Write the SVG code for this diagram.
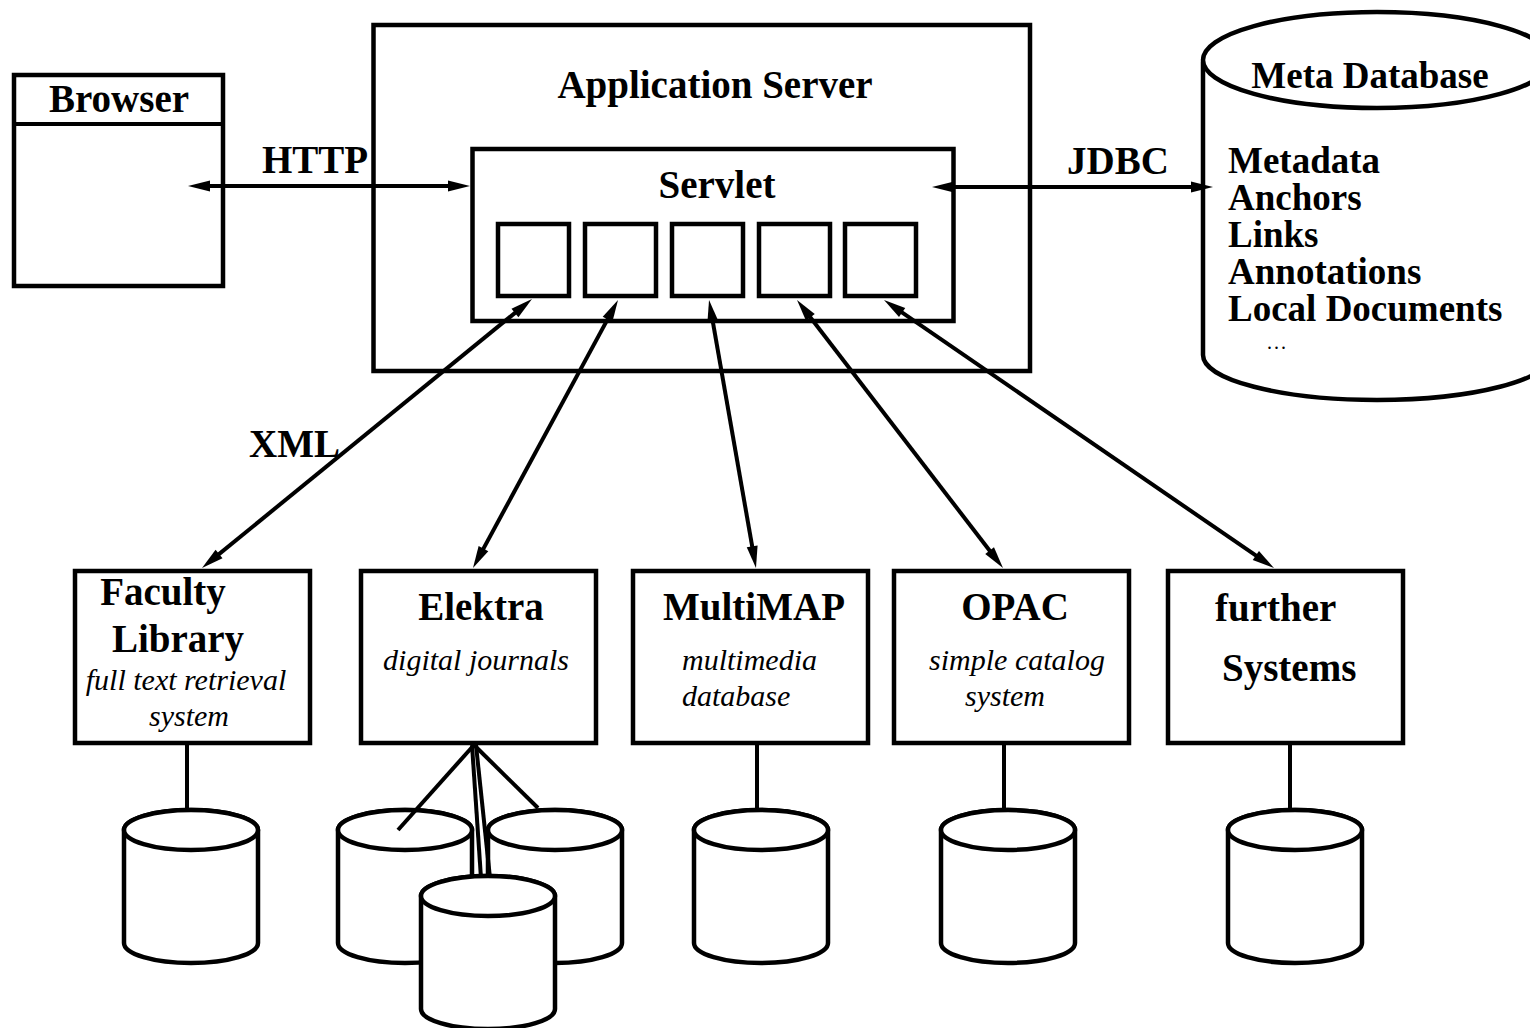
<svg xmlns="http://www.w3.org/2000/svg" xmlns:xlink="http://www.w3.org/1999/xlink" width="1530" height="1028" viewBox="0 0 1530 1028">
<style>
.box{fill:#fff;stroke:#000;stroke-width:4.5}
.ln{fill:none;stroke:#000;stroke-width:4}
.arr{fill:none;stroke:#000;stroke-width:4;marker-start:url(#ah);marker-end:url(#ah)}
.b{font-family:"Liberation Serif","Times New Roman",serif;font-weight:bold;font-size:39px;fill:#000}
.i{font-family:"Liberation Serif","Times New Roman",serif;font-style:italic;font-size:30px;fill:#000}
.c{text-anchor:middle}
</style>
<defs>
<marker id="ah" markerUnits="userSpaceOnUse" markerWidth="40" markerHeight="20" refX="0" refY="0" orient="auto-start-reverse" overflow="visible" viewBox="-20 -10 40 20">
<path d="M12,0 L-10,-5.5 L-10,5.5 Z" fill="#000"/>
</marker>
<g id="cyl">
<path d="M-67,0 V113 A67,20 0 0 0 67,113 V0 A67,20 0 0 0 -67,0 Z" fill="#fff" stroke="#000" stroke-width="4.5"/>
<ellipse cx="0" cy="0" rx="67" ry="20" fill="#fff" stroke="#000" stroke-width="4.5"/>
</g>
</defs>
<rect width="1530" height="1028" fill="#fff"/>

<g id="app-server">
<rect class="box" x="373.5" y="25" width="656.5" height="346"/>
<text class="b c" x="715" y="98">Application Server</text>
</g>

<g id="servlet">
<rect class="box" x="472.5" y="149" width="481" height="172"/>
<text class="b c" x="717" y="198">Servlet</text>
<rect class="box" x="498" y="224" width="71" height="72"/>
<rect class="box" x="585" y="224" width="71" height="72"/>
<rect class="box" x="672" y="224" width="71" height="72"/>
<rect class="box" x="759" y="224" width="71" height="72"/>
<rect class="box" x="845" y="224" width="71" height="72"/>
</g>

<g id="browser">
<rect class="box" x="14" y="75" width="209" height="211"/>
<line class="ln" x1="14" y1="124" x2="223" y2="124"/>
<text class="b c" x="119" y="112">Browser</text>
</g>

<g id="meta-db">
<path d="M1203,62 V355 A174,45 0 0 0 1551,355 V62 A174,48 0 0 0 1203,62 Z" fill="#fff" stroke="#000" stroke-width="4.5"/>
<ellipse cx="1377" cy="60" rx="174" ry="48" fill="#fff" stroke="#000" stroke-width="4.5"/>
<text class="b c" x="1370" y="88" style="font-size:37px">Meta Database</text>
<text class="b" x="1228" y="173" style="font-size:37px">Metadata</text>
<text class="b" x="1228" y="210" style="font-size:37px">Anchors</text>
<text class="b" x="1228" y="247" style="font-size:37px">Links</text>
<text class="b" x="1228" y="284" style="font-size:37px">Annotations</text>
<text class="b" x="1228" y="321" style="font-size:37px">Local Documents</text>
<text x="1267" y="349" style="font-family:'Liberation Serif',serif;font-size:20px;letter-spacing:2px">...</text>
</g>

<g id="connectors">
<line class="arr" x1="200" y1="186" x2="458" y2="186"/>
<line class="arr" x1="944" y1="187" x2="1201" y2="187"/>
<line class="arr" x1="522.7" y1="306.6" x2="211.3" y2="560.4"/>
<line class="arr" x1="612.3" y1="310.6" x2="478.7" y2="557.4"/>
<line class="arr" x1="711.1" y1="311.8" x2="753.9" y2="556.2"/>
<line class="arr" x1="804.3" y1="309.5" x2="995.7" y2="558.5"/>
<line class="arr" x1="893.9" y1="306.8" x2="1264.1" y2="561.2"/>
<line class="ln" x1="187" y1="744" x2="187" y2="812"/>
<line class="ln" x1="757" y1="744" x2="757" y2="812"/>
<line class="ln" x1="1004" y1="744" x2="1004" y2="812"/>
<line class="ln" x1="1290" y1="744" x2="1290" y2="812"/>
</g>

<g id="labels">
<text class="b" x="262" y="173">HTTP</text>
<text class="b" x="1067" y="174">JDBC</text>
<text class="b" x="249" y="457">XML</text>
</g>

<g id="faculty-library">
<rect class="box" x="75" y="571" width="235" height="172"/>
<text class="b c" x="163" y="605">Faculty</text>
<text class="b c" x="178" y="652">Library</text>
<text class="i c" x="186" y="690">full text retrieval</text>
<text class="i c" x="189" y="726">system</text>
</g>

<g id="elektra">
<rect class="box" x="361" y="571" width="235" height="172"/>
<text class="b c" x="481" y="620">Elektra</text>
<text class="i c" x="476" y="670">digital journals</text>
</g>

<g id="multimap">
<rect class="box" x="633" y="571" width="235" height="172"/>
<text class="b c" x="754" y="620">MultiMAP</text>
<text class="i" x="682" y="670">multimedia</text>
<text class="i" x="682" y="706">database</text>
</g>

<g id="opac">
<rect class="box" x="894" y="571" width="235" height="172"/>
<text class="b c" x="1015" y="620">OPAC</text>
<text class="i c" x="1017" y="670">simple catalog</text>
<text class="i c" x="1005" y="706">system</text>
</g>

<g id="further-systems">
<rect class="box" x="1168" y="571" width="235" height="172"/>
<text class="b" x="1215" y="621">further</text>
<text class="b" x="1222" y="681">Systems</text>
</g>

<g id="db-faculty"><use xlink:href="#cyl" x="191" y="830"/></g>
<g id="db-elektra">
<use xlink:href="#cyl" x="405" y="830"/>
<use xlink:href="#cyl" x="555" y="830"/>
<line class="ln" x1="474" y1="745" x2="398" y2="830"/>
<line class="ln" x1="474" y1="745" x2="538" y2="808"/>
<line class="ln" x1="472" y1="745" x2="481" y2="878"/>
<line class="ln" x1="476" y1="745" x2="490" y2="878"/>
<use xlink:href="#cyl" x="488" y="896"/>
</g>
<g id="db-multimap"><use xlink:href="#cyl" x="761" y="830"/></g>
<g id="db-opac"><use xlink:href="#cyl" x="1008" y="830"/></g>
<g id="db-further"><use xlink:href="#cyl" x="1295" y="830"/></g>
</svg>
